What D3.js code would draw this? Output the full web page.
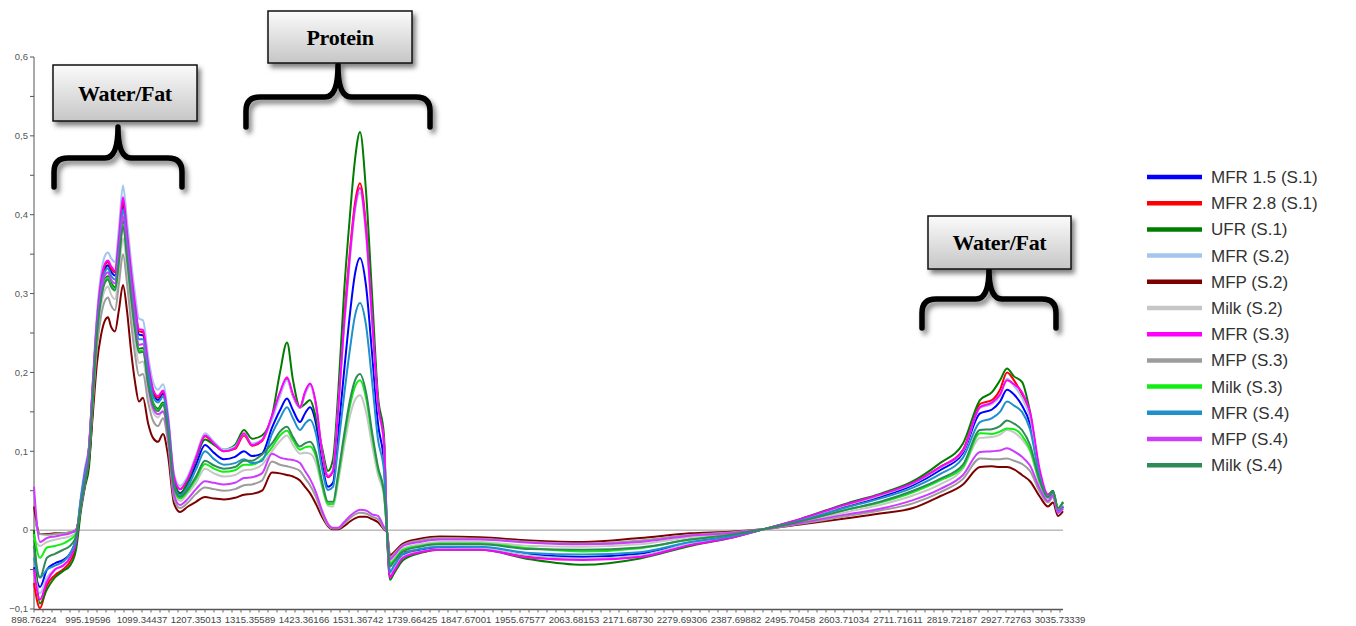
<!DOCTYPE html>
<html><head><meta charset="utf-8">
<script src="https://cdn.jsdelivr.net/npm/d3@7"></script>
<style>body{margin:0;background:#fff}svg{display:block}</style>
</head><body>
<svg id="chart" width="1356" height="626"></svg>
<script>
// ---------- DATA ----------
const tickLabels = ["898.76224","995.19596","1099.34437","1207.35013","1315.35589","1423.36166","1531.36742","1739.66425","1847.67001","1955.67577","2063.68153","2171.68730","2279.69306","2387.69882","2495.70458","2603.71034","2711.71611","2819.72187","2927.72763","3035.73339"];
const yTickValues = [-0.1,0,0.1,0.2,0.3,0.4,0.5,0.6];

const wavenumbers = [898.76,909.48,921.98,936.26,950.55,963.05,973.77,982.69,989.84,
997.12,1004.84,1012.55,1020.27,1027.98,1033.77,1039.56,1047.27,1054.99,1062.70,1070.42,1078.13,1085.85,1093.56,1101.34,1111.35,1121.35,1131.35,1141.35,1151.35,
1163.35,1175.35,1191.35,1207.35,1225.35,1243.35,1263.36,1285.36,1303.36,1319.36,1339.36,
1359.36,1375.36,1389.36,1401.36,1415.36,1425.36,1435.36,1447.36,1459.36,1471.36,1481.36,1491.37,1503.37,1515.37,1525.37,1539.08,1562.23,1585.37,1608.52,1631.66,
1643.23,1654.80,1670.23,1704.95,1755.67,1795.67,1875.67,1975.68,2081.68,2195.69,2295.69,2375.70,
2441.70,2515.70,2609.71,2675.71,2741.71,2795.72,2841.72,2875.72,2899.73,2915.73,2929.73,2943.73,2959.73,2975.73,2995.73,3011.73,3021.73,3031.73,3041.74];

const seriesNames = ["MFR 1.5 (S.1)","MFR 2.8 (S.1)","UFR (S.1)","MFR (S.2)","MFP (S.2)","Milk (S.2)","MFR (S.3)","MFP (S.3)","Milk (S.3)","MFR (S.4)","MFP (S.4)","Milk (S.4)"];

const mfr15_s1 = [-0.047,-0.072,-0.05,-0.042,-0.038,-0.03,-0.01,0.04,0.07,
.104,.186,.263,.310,.332,.336,.328,.323,.365,.413,.370,.321,.279,.248,.247,.206,.175,.165,.173,.138,
.062,.047,.06,.083,.108,.098,.09,.093,.1,.094,.097,
.13,.152,.167,.152,.137,.148,.156,.135,.085,.055,.06,.12,.2,.275,.325,.345,.31,.225,.135,.085,
-.002,-.055,-.048,-.032,-.026,-.023,-.022,-.031,-.034,-.03,-.016,-.008,
.001,.013,.031,.042,.057,.076,.098,.148,.153,.163,.178,.172,.158,.135,.068,.043,.047,.024,.03];

const mfr28_s1 = [-0.067,-0.099,-0.07,-0.057,-0.05,-0.04,-0.02,0.03,0.062,
.105,.188,.266,.313,.336,.340,.332,.327,.369,.418,.375,.326,.283,.252,.251,.209,.177,.168,.176,.140,
.067,.052,.066,.091,.119,.109,.1,.103,.12,.107,.113,
.143,.173,.192,.17,.155,.174,.185,.158,.098,.067,.075,.152,.265,.355,.415,.44,.385,.275,.162,.11,
-.001,-.058,-.05,-.027,-.028,-.024,-.024,-.034,-.037,-.033,-.018,-.009,
.001,.013,.032,.044,.06,.08,.102,.16,.165,.178,.2,.19,.172,.145,.07,.043,.047,.025,.03];

const ufr_s1 = [0.0,-0.093,-0.075,-0.06,-0.052,-0.045,-0.025,0.025,0.055,
.080,.160,.240,.297,.318,.322,.314,.308,.347,.392,.351,.302,.260,.230,.231,.191,.162,.154,.162,.129,
.065,.046,.062,.09,.115,.108,.102,.108,.127,.116,.12,
.145,.2,.238,.19,.156,.16,.165,.142,.105,.075,.09,.17,.3,.4,.47,.505,.43,.3,.17,.12,
-.002,-.063,-.055,-.038,-.029,-.025,-.025,-.037,-.044,-.036,-.02,-.01,
.001,.014,.034,.046,.062,.085,.11,.165,.175,.19,.205,.195,.188,.15,.07,.045,.05,.027,.035];

const mfr_s2 = [-0.05,-0.08,-0.06,-0.05,-0.045,-0.035,-0.012,0.045,0.08,
.108,.195,.275,.325,.348,.352,.345,.340,.385,.437,.392,.343,.300,.268,.266,.222,.188,.178,.185,.148,
.072,.056,.069,.095,.123,.112,.102,.106,.122,.11,.115,
.14,.17,.19,.17,.155,.172,.183,.158,.1,.07,.077,.15,.255,.345,.405,.428,.375,.265,.158,.108,
-.002,-.056,-.049,-.033,-.027,-.024,-.023,-.032,-.036,-.032,-.017,-.009,
.001,.013,.032,.044,.059,.079,.1,.155,.16,.17,.192,.183,.168,.143,.07,.044,.047,.022,.028];

const mfp_s2 = [0.03,-0.005,-0.005,-0.004,-0.004,-0.003,0.0,0.03,0.058,
.086,.150,.212,.247,.266,.270,.258,.252,.280,.311,.278,.228,.188,.163,.168,.136,.117,.112,.122,.095,
.034,.023,.03,.036,.042,.04,.039,.041,.045,.046,.05,
.073,.072,.07,.068,.063,.055,.047,.033,.017,.005,.001,.001,.005,.011,.015,.017,.017,.014,.01,.001,
-.003,-.032,-.028,-.017,-.011,-.008,-.009,-.013,-.015,-.01,-.004,-.002,
.001,.007,.015,.021,.028,.043,.058,.08,.081,.08,.08,.077,.07,.062,.042,.03,.035,.018,.024];

const milk_s2 = [-0.01,-0.02,-0.015,-0.012,-0.01,-0.008,-0.003,0.033,0.062,
.096,.171,.242,.284,.305,.309,.299,.293,.329,.370,.332,.282,.241,.212,.214,.176,.150,.143,.152,.120,
.05,.037,.047,.06,.078,.072,.068,.07,.076,.077,.083,
.1,.113,.12,.108,.097,.098,.097,.085,.055,.031,.03,.06,.105,.145,.165,.171,.15,.108,.07,.043,
-.002,-.04,-.035,-.023,-.018,-.015,-.015,-.02,-.021,-.018,-.009,-.005,
.001,.01,.023,.032,.044,.058,.078,.117,.118,.121,.127,.124,.115,.1,.058,.04,.046,.026,.032];

const mfr_s3 = [-0.05,-0.088,-0.065,-0.05,-0.045,-0.035,-0.015,0.04,0.075,
.105,.190,.267,.316,.338,.342,.335,.329,.372,.422,.378,.329,.287,.255,.254,.212,.179,.170,.177,.142,
.068,.052,.066,.092,.12,.11,.1,.104,.123,.108,.114,
.145,.175,.194,.172,.156,.175,.186,.16,.1,.068,.075,.15,.26,.35,.41,.434,.38,.27,.16,.11,
-.002,-.06,-.052,-.035,-.028,-.025,-.025,-.035,-.038,-.034,-.019,-.01,
.001,.014,.033,.045,.06,.08,.101,.156,.162,.172,.19,.185,.175,.15,.075,.045,.048,.025,.03];

const mfp_s3 = [0.015,-0.005,-0.006,-0.005,-0.004,-0.003,0.0,0.032,0.06,
.093,.164,.232,.271,.291,.295,.285,.279,.313,.350,.313,.264,.223,.196,.198,.163,.139,.132,.142,.111,
.04,.028,.035,.046,.054,.052,.05,.052,.057,.058,.063,
.087,.083,.081,.079,.075,.066,.057,.042,.021,.006,.002,.002,.008,.015,.02,.022,.021,.017,.014,.002,
-.002,-.035,-.03,-.019,-.013,-.01,-.011,-.015,-.017,-.013,-.006,-.003,
.001,.008,.018,.025,.034,.048,.065,.091,.09,.09,.091,.088,.084,.075,.048,.035,.042,.022,.027];

const milk_s3 = [-0.005,-0.035,-0.022,-0.02,-0.017,-0.012,-0.005,0.035,0.065,
.099,.177,.250,.295,.316,.320,.311,.306,.344,.388,.348,.298,.256,.227,.228,.188,.160,.152,.160,.127,
.052,.04,.05,.065,.084,.078,.074,.076,.083,.083,.09,
.105,.12,.126,.114,.102,.105,.106,.093,.058,.033,.033,.066,.115,.158,.182,.19,.168,.12,.077,.046,
-.002,-.043,-.038,-.025,-.02,-.017,-.017,-.023,-.027,-.023,-.012,-.006,
.001,.011,.026,.035,.048,.063,.08,.123,.122,.125,.129,.128,.12,.102,.06,.041,.048,.028,.035];

const mfr_s4 = [-0.035,-0.06,-0.05,-0.045,-0.04,-0.03,-0.01,0.04,0.072,
.103,.184,.259,.306,.328,.332,.323,.318,.359,.406,.364,.314,.272,.242,.242,.201,.170,.162,.169,.135,
.058,.044,.056,.077,.1,.09,.083,.085,.09,.085,.088,
.122,.142,.156,.142,.127,.135,.14,.122,.078,.051,.055,.105,.17,.23,.272,.288,.26,.19,.115,.075,
-.002,-.053,-.045,-.03,-.024,-.021,-.021,-.029,-.031,-.028,-.015,-.008,
.001,.012,.029,.04,.054,.071,.092,.137,.142,.15,.163,.158,.15,.128,.066,.042,.047,.024,.03];

const mfp_s4 = [0.055,-0.015,-0.01,-0.008,-0.006,-0.004,0.0,0.03,0.06,
.101,.181,.255,.301,.323,.327,.318,.313,.352,.398,.357,.307,.265,.235,.236,.185,.155,.147,.150,.12,
.045,.032,.04,.052,.062,.06,.058,.06,.066,.067,.072,
.097,.092,.09,.089,.085,.075,.065,.048,.025,.008,.003,.003,.01,.018,.023,.026,.025,.02,.018,.004,
-.002,-.037,-.032,-.02,-.015,-.012,-.012,-.016,-.018,-.015,-.007,-.004,
.001,.009,.02,.027,.038,.052,.07,.099,.1,.101,.104,.1,.093,.082,.052,.037,.044,.022,.028];

const milk_s4 = [-0.02,-0.06,-0.035,-0.03,-0.025,-0.02,-0.008,0.032,0.06,
.090,.170,.249,.293,.314,.318,.309,.304,.342,.385,.345,.296,.254,.225,.226,.187,.159,.151,.159,.126,
.055,.042,.052,.068,.088,.082,.078,.08,.088,.088,.096,
.11,.125,.131,.118,.106,.11,.112,.098,.062,.036,.036,.07,.12,.165,.19,.198,.175,.125,.08,.048,
-.002,-.046,-.04,-.027,-.021,-.018,-.018,-.024,-.025,-.022,-.012,-.006,
.001,.011,.026,.036,.05,.065,.083,.127,.128,.132,.139,.135,.127,.108,.062,.042,.049,.028,.036];

const seriesValues = [mfr15_s1,mfr28_s1,ufr_s1,mfr_s2,mfp_s2,milk_s2,mfr_s3,mfp_s3,milk_s3,mfr_s4,mfp_s4,milk_s4];

const annotationLabels = ["Water/Fat","Protein","Water/Fat"];
const annotationRanges = [[934.5,1179.3],[1307.3,1775.7],[2759.7,3027.7]];

// ---------- STYLE / LAYOUT ----------
const seriesColors = ["#0000ff","#ff0000","#007d00","#a3c6ee","#7d0000","#c6c6c6","#ff00ff","#9c9c9c","#11ee11","#1e90cc","#cc3cff","#2e8b57"];
const plotLeft = 34, tickStep = 54, plotRight = 1063;
const yTop = 57, yBottom = 609;
const boxes = [{x:53,y:65,w:144,h:56},{x:268,y:11,w:144,h:52},{x:928,y:216,w:143,h:53}];
const braces = [{yt:158,yb:187,yc:127},{yt:97,yb:127,yc:65},{yt:299,yb:328,yc:269}];

const svg = d3.select("#chart");
const tickValues = tickLabels.map(Number);
const x = d3.scaleLinear().domain(tickValues).range(tickValues.map((d,i)=>plotLeft+i*tickStep));
const y = d3.scaleLinear().domain([-0.1,0.6]).range([yBottom,yTop]);

const defs = svg.append("defs");
const f = defs.append("filter").attr("id","shadow").attr("x","-20%").attr("y","-20%").attr("width","150%").attr("height","170%");
f.append("feDropShadow").attr("dx",3).attr("dy",4).attr("stdDeviation",2.6).attr("flood-color","#000").attr("flood-opacity",0.5);
const g = defs.append("linearGradient").attr("id","boxgrad").attr("x1",0).attr("y1",0).attr("x2",0).attr("y2",1);
g.append("stop").attr("offset","0%").attr("stop-color","#fbfbfb");
g.append("stop").attr("offset","100%").attr("stop-color","#c6c6c6");

// zero line
svg.append("line").attr("x1",plotLeft).attr("x2",plotRight).attr("y1",y(0)).attr("y2",y(0))
  .attr("stroke","#999").attr("stroke-width",1);

// y axis
svg.append("line").attr("x1",plotLeft).attr("x2",plotLeft).attr("y1",yTop).attr("y2",yBottom).attr("stroke","#555").attr("stroke-width",1);
const yMinor = d3.range(-0.1,0.6001,0.05);
svg.selectAll(".ytick").data(yMinor).join("line")
  .attr("x1",plotLeft-4).attr("x2",plotLeft).attr("y1",d=>y(d)).attr("y2",d=>y(d)).attr("stroke","#555");
svg.selectAll(".ylab").data(yTickValues).join("text")
  .attr("x",plotLeft-6).attr("y",d=>y(d)).attr("dy","0.35em").attr("text-anchor","end")
  .attr("font-family","Liberation Sans, Arial, sans-serif").attr("font-size",9.5).attr("fill","#555")
  .text(d=> Math.abs(d)<1e-9 ? "0" : d3.format(".1f")(d).replace(".",","));

// x axis
svg.append("line").attr("x1",plotLeft).attr("x2",plotRight).attr("y1",yBottom+0.5).attr("y2",yBottom+0.5).attr("stroke","#555").attr("stroke-width",1.5);
const minorPos = [];
tickValues.forEach((d,i)=>{ for(let k=0;k<6;k++){ const p = x(d)+k*tickStep/6; if(p<=plotRight) minorPos.push(p);} });
svg.selectAll(".xtick").data(minorPos).join("line")
  .attr("x1",d=>d).attr("x2",d=>d).attr("y1",yBottom).attr("y2",yBottom+3.5).attr("stroke","#666").attr("stroke-width",1);
svg.selectAll(".xlab").data(tickLabels).join("text")
  .attr("x",d=>x(+d)).attr("y",623).attr("text-anchor","middle")
  .attr("font-family","Liberation Sans, Arial, sans-serif").attr("font-size",9.6).attr("fill","#444")
  .text(d=>d);

// series
const line = d3.line().x((d,i)=>x(wavenumbers[i])).y(d=>y(d)).curve(d3.curveMonotoneX);
svg.append("g").selectAll("path").data(seriesValues).join("path")
  .attr("d",d=>line(d)).attr("fill","none").attr("stroke",(d,i)=>seriesColors[i])
  .attr("stroke-width",2).attr("stroke-linejoin","round");

// annotations
function bracePath(x0,x1,yt,yb,yc){
  const xc=(x0+x1)/2, r=14, r2=13;
  return `M${x0},${yb} L${x0},${yt+r} Q${x0},${yt} ${x0+r},${yt} L${xc-r2},${yt} Q${xc},${yt} ${xc},${yc} Q${xc},${yt} ${xc+r2},${yt} L${x1-r},${yt} Q${x1},${yt} ${x1},${yt+r} L${x1},${yb}`;
}
annotationLabels.forEach((lab,i)=>{
  const b = boxes[i], br = braces[i];
  const x0 = x(annotationRanges[i][0]), x1 = x(annotationRanges[i][1]);
  svg.append("path").attr("d",bracePath(x0,x1,br.yt,br.yb,br.yc)).attr("fill","none")
    .attr("stroke","#000").attr("stroke-width",5.5).attr("stroke-linecap","round").attr("stroke-linejoin","round")
    .attr("filter","url(#shadow)");
  svg.append("rect").attr("x",b.x).attr("y",b.y).attr("width",b.w).attr("height",b.h)
    .attr("fill","url(#boxgrad)").attr("stroke","#111").attr("stroke-width",1.5).attr("filter","url(#shadow)");
  svg.append("text").attr("x",b.x+b.w/2).attr("y",b.y+b.h/2).attr("dy","0.35em").attr("text-anchor","middle")
    .attr("font-family","Liberation Serif, Times New Roman, serif").attr("font-weight","bold")
    .attr("font-size",22).attr("letter-spacing","-0.3").attr("fill","#000").text(lab);
});

// legend
const lg = svg.append("g");
seriesNames.forEach((n,i)=>{
  const ly = 177 + i*26.2;
  lg.append("line").attr("x1",1147).attr("x2",1202).attr("y1",ly).attr("y2",ly)
    .attr("stroke",seriesColors[i]).attr("stroke-width",4.5);
  lg.append("text").attr("x",1211).attr("y",ly).attr("dy","0.35em")
    .attr("font-family","Liberation Sans, Arial, sans-serif").attr("font-size",17).attr("fill","#333").text(n);
});
</script>
</body></html>
